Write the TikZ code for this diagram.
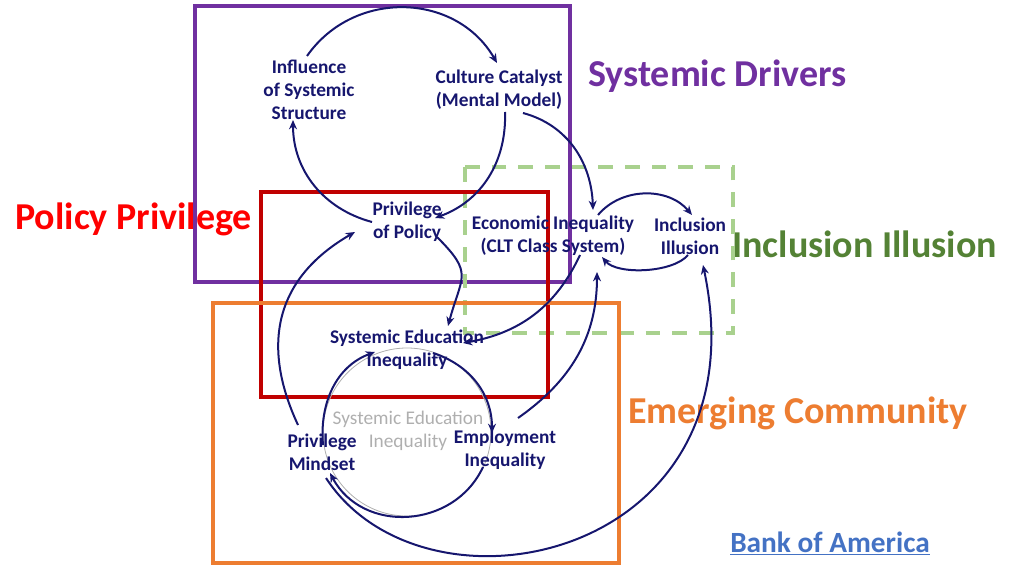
\documentclass[tikz,border=0pt]{standalone}
\usepackage{fontspec}
\setmainfont{Carlito}
\usetikzlibrary{arrows.meta,calc}
\definecolor{navy}{RGB}{22,22,110}
\definecolor{sdpurple}{HTML}{7030A0}
\definecolor{ppred}{HTML}{C00000}
\definecolor{pptext}{HTML}{FF0000}
\definecolor{ecorange}{HTML}{ED7D31}
\definecolor{iigreen}{HTML}{A9D18E}
\definecolor{iitext}{HTML}{548235}
\definecolor{boablue}{HTML}{4472C4}
\definecolor{ghost}{RGB}{175,175,175}
\begin{document}
\begin{tikzpicture}[x=0.75pt,y=0.75pt,
  lbl/.style={text=navy,font=\bfseries\fontsize{14.5}{17.25}\selectfont,align=center,inner sep=0pt},
  ghostlbl/.style={text=ghost,font=\fontsize{14.5}{17.25}\selectfont,align=center,inner sep=0pt},
  arr/.style={draw=navy,line width=1.5pt,-{Stealth[length=7pt,width=6pt]}},
  title/.style={anchor=base west,inner sep=0pt,font=\bfseries\fontsize{28.5}{34}\selectfont},
  frame/.style={line width=3pt}]
\useasboundingbox (0,0) rectangle (1024,-574);

% titles
\node[title,text=sdpurple] (tsd) at (588,-87) {Systemic Drivers};
\node[title,text=pptext] (tpp) at (15,-229) {Policy Privilege};
\node[title,text=iitext] (tii) at (732,-257) {Inclusion Illusion};
\node[title,text=ecorange] (tec) at (628,-423) {Emerging Community};
\node[anchor=base west,inner sep=0pt,text=boablue,font=\bfseries\fontsize{22}{26}\selectfont] (boa) at (730,-552) {\underline{Bank of America}};

% frames
\draw[frame,sdpurple] (195,-6) rectangle (570,-282);
\draw[frame,iigreen,dash pattern=on 11pt off 9pt] (465,-167) rectangle (733,-333);
\draw[frame,ppred] (261,-192) rectangle (548,-397);
\draw[frame,ecorange] (213,-303) rectangle (619,-563);

% ghost circle
\coordinate (gc) at (407,-432);
\draw[ghost,line width=0.6pt] (gc) circle (84);

% labels
\node[lbl] (is) at (309,-90) {Influence\\of Systemic\\Structure};
\node[lbl] (cc) at (499,-90) {Culture Catalyst\\(Mental Model)};
\node[lbl] (pp) at (407,-222) {Privilege\\of Policy};
\node[lbl] (ei) at (553,-236) {Economic Inequality\\(CLT Class System)};
\node[lbl] (ii) at (690,-236) {Inclusion\\Illusion};
\node[lbl] (se) at (407,-350) {Systemic Education\\Inequality};
\node[lbl] (pm) at (322,-452) {Privilege\\Mindset};
\node[lbl] (em) at (505,-450) {Employment\\Inequality};
\node[ghostlbl] (gt) at (408,-431) {Systemic Education\\Inequality};

% top loop
\draw[arr] ($(is)+(-2,34)$) to[out=55,in=120,looseness=1.1] ($(cc)+(-2,27)$);
\draw[arr] ($(cc)+(6,-22)$) to[out=-88,in=20] ($(pp)+(28,4)$);
\draw[arr] ($(pp)+(-35,0)$) to[out=165,in=-90] ($(is)+(-16,-30)$);

% cross links
\draw[arr] ($(cc)+(24,-23)$) to[out=-15,in=92] ($(ei)+(40,26)$);
\draw[arr] ($(pp)+(30,-15)$) to[out=-45,in=75,looseness=1.5] ($(se)+(41,24)$);
\draw[arr] ($(ei)+(27,-19)$) to[out=-115,in=10] ($(se)+(56,7)$);
\draw[arr] ($(em)+(13,32)$) to[out=35,in=-90] ($(ei)+(44,-36)$);
\draw[arr] ($(ei)+(45,21)$) to[out=50,in=130] ($(ii)+(2,21)$);
\draw[arr] ($(ii)+(-2,-19)$) to[out=-130,in=-50,looseness=0.7] ($(ei)+(49,-21)$);
\draw[arr] ($(pm)+(-24,27)$) to[out=115,in=210,looseness=1.15] ($(pp)+(-52,-10)$);

% inner loop
\draw[arr] ($(pm)+(1,7)$) to[out=95,in=200] ($(se)+(-32,-2)$);
\draw[arr] ($(se)+(26,-3)$) to[out=-18,in=90] ($(em)+(-13,17)$);
\draw[arr] ($(em)+(-22,-17)$) to[out=-115,in=-62,looseness=1.15] ($(pm)+(8,-21)$);

% big arc
\draw[arr] ($(pm)+(4,-26)$) .. controls (425,-630) and (765,-560) .. ($(ii)+(13,-29)$);
\end{tikzpicture}
\end{document}
